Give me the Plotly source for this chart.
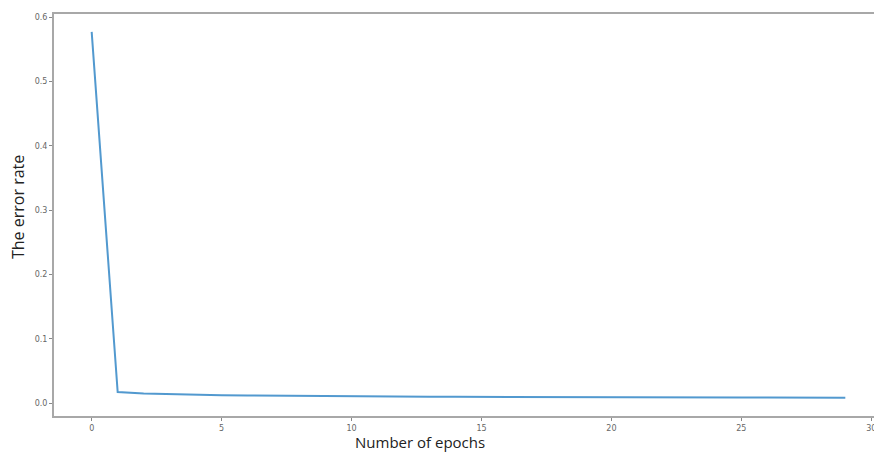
import plotly.graph_objects as go

epochs = list(range(30))
error_rate = [0.577, 0.0175, 0.0152, 0.0140, 0.0132, 0.0126, 0.0121, 0.0117, 0.0114, 0.0111,
              0.0109, 0.0107, 0.0105, 0.0103, 0.0102, 0.0100, 0.0099, 0.0098, 0.0097, 0.0096,
              0.0095, 0.0094, 0.0093, 0.0092, 0.0091, 0.0091, 0.0090, 0.0089, 0.0089, 0.0088]
x_ticks = [0, 5, 10, 15, 20, 25, 30]
y_ticks = [0.0, 0.1, 0.2, 0.3, 0.4, 0.5, 0.6]
y_tick_labels = ["0.0", "0.1", "0.2", "0.3", "0.4", "0.5", "0.6"]

# figure is a bit wider than the window: the right spine falls off-screen, as in the reference
W, H = 883, 452
L, R, T, B = 54, 0, 14, 36
PW, PH = W - L - R, H - T - B
plot_left, plot_top, plot_bottom = L, T, H - B

fig = go.Figure()
fig.add_trace(go.Scatter(x=epochs, y=error_rate, mode="lines",
                         line=dict(color="#5299cf", width=2)))

axis_common = dict(showgrid=False, zeroline=False, showline=True, linecolor="#a8a8a8",
                   linewidth=2, ticks="outside", ticklen=3, tickcolor="#888",
                   ticklabeloverflow="allow",
                   tickfont=dict(size=8, color="#666", family="DejaVu Sans"))
fig.update_xaxes(range=[-1.45, 30.45], tickvals=x_ticks, mirror=True, **axis_common)
fig.update_yaxes(range=[-0.0197, 0.6048], tickvals=y_ticks, ticktext=y_tick_labels, **axis_common)

fig.add_annotation(text="The error rate", xref="paper", yref="paper",
                   x=(18 - plot_left) / PW, y=(plot_bottom - 207) / PH,
                   textangle=-90, showarrow=False, xanchor="center", yanchor="middle",
                   font=dict(size=16, color="#222", family="Open Sans"))
fig.add_annotation(text="Number of epochs", xref="paper", yref="paper",
                   x=(420 - plot_left) / PW, y=-(442 - plot_bottom) / PH,
                   showarrow=False, xanchor="center", yanchor="middle", borderpad=0,
                   font=dict(size=15, color="#222", family="Open Sans"))

fig.update_layout(width=W, height=H, margin=dict(l=L, r=R, t=T, b=B),
                  paper_bgcolor="white", plot_bgcolor="white", showlegend=False)
fig.write_html("out.html", config={"displayModeBar": False},
               post_script="document.body.style.margin='0';"
                           "document.documentElement.style.overflow='hidden';")
